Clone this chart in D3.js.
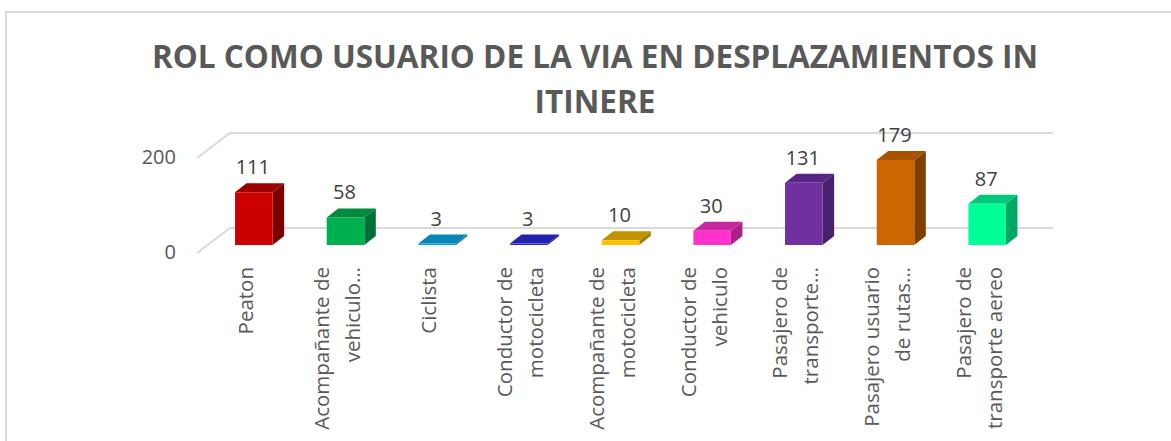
<!DOCTYPE html>
<html>
<head>
<meta charset="utf-8">
<script src="https://cdn.jsdelivr.net/npm/d3@7"></script>
<style>
  body { margin: 0; background: #fff; }
  text { font-family: "Open Sans", sans-serif; }
</style>
</head>
<body>
<div id="chart"></div>
<script>
// categories (already wrapped the way the picture shows them)
var categories = ["Peaton", "Acompañante de vehiculo", "Ciclista", "Conductor de motocicleta",
  "Acompañante de motocicleta", "Conductor de vehiculo", "Pasajero de transporte",
  "Pasajero usuario de rutas", "Pasajero de transporte aereo"];
var tickLines = [["Peaton"], ["Acompañante de", "vehiculo…"], ["Ciclista"], ["Conductor de", "motocicleta"],
  ["Acompañante de", "motocicleta"], ["Conductor de", "vehiculo"], ["Pasajero de", "transporte…"],
  ["Pasajero usuario", "de rutas…"], ["Pasajero de", "transporte aereo"]];
var values = [111, 58, 3, 3, 10, 30, 131, 179, 87];
var yTicks = [0, 200];
var titleLines = ["ROL COMO USUARIO DE LA VIA EN DESPLAZAMIENTOS IN", "ITINERE"];

// colours per bar: front, side, top
var frontColors = ["#cc0000", "#00b050", "#00a0d8", "#2b2bd6", "#ffc000", "#ff33cc", "#7030a0", "#cc6600", "#00ff99"];
var sideColors  = ["#7a0000", "#007034", "#006e96", "#1c1c92", "#a87e00", "#aa2288", "#4a1f6b", "#803f00", "#00a864"];
var topColors   = ["#990000", "#008a3e", "#0a86b6", "#2323b0", "#c49200", "#c8289f", "#582684", "#a65300", "#00c878"];

var W = 1171, H = 441;
var svg = d3.select("#chart").append("svg").attr("width", W).attr("height", H);

// outer chart frame (runs off right and bottom)
svg.append("rect").attr("x", 6).attr("y", 12).attr("width", 1300).attr("height", 600)
  .attr("fill", "none").attr("stroke", "#d9d9d9").attr("stroke-width", 2);

// title
svg.selectAll(".title").data(titleLines).enter().append("text")
  .attr("x", 595).attr("y", function(d, i) { return 68 + i * 45; })
  .attr("text-anchor", "middle")
  .style("font-size", "31.5px").style("font-weight", "bold").attr("fill", "#595959")
  .text(function(d) { return d; });

// 3D geometry: front edge of floor, bar front plane, back wall
var depthX = 33, depthY = -25;      // floor front edge -> back wall
var barDX = 11.5, barDY = -9;       // bar depth
var x = d3.scaleBand().domain(categories).range([208, 1033]);
var yFront = d3.scaleLinear().domain([0, 200]).range([245, 150]);
var yEdge = d3.scaleLinear().domain([0, 200]).range([253, 158]);
var yBack = d3.scaleLinear().domain([0, 200]).range([228, 133]);
var edgeX = 197, backX = edgeX + depthX, backEnd = 1053;

// gridlines: diagonal on side wall + horizontal on back wall
var grid = svg.append("g");
yTicks.forEach(function(t) {
  grid.append("path")
    .attr("d", "M" + edgeX + "," + yEdge(t) + "L" + backX + "," + yBack(t) + "L" + backEnd + "," + yBack(t))
    .attr("fill", "none").attr("stroke", "#d9d9d9").attr("stroke-width", 2);
});

// y tick labels
svg.selectAll(".ytick").data(yTicks).enter().append("text")
  .attr("x", 176).attr("y", function(d) { return yEdge(d) + 1; })
  .attr("text-anchor", "end").attr("dominant-baseline", "middle")
  .style("font-size", "20px").attr("fill", "#595959")
  .text(function(d) { return d; });

// bars
var bw = x.bandwidth() * 0.41;
var bars = svg.selectAll(".bar").data(values).enter().append("g");
function cx(i) { return x(categories[i]) + x.bandwidth() / 2; }

bars.append("path") // side
  .attr("d", function(d, i) {
    var r = cx(i) + bw / 2, y0 = yFront(0), y1 = yFront(d);
    return "M" + r + "," + y0 + "L" + r + "," + y1 + "L" + (r + barDX) + "," + (y1 + barDY) +
      "L" + (r + barDX) + "," + (y0 + barDY) + "Z";
  })
  .attr("fill", function(d, i) { return sideColors[i]; });

bars.append("path") // top
  .attr("d", function(d, i) {
    var l = cx(i) - bw / 2, r = cx(i) + bw / 2, y1 = yFront(d);
    return "M" + l + "," + y1 + "L" + r + "," + y1 + "L" + (r + barDX) + "," + (y1 + barDY) +
      "L" + (l + barDX) + "," + (y1 + barDY) + "Z";
  })
  .attr("fill", function(d, i) { return topColors[i]; });

bars.append("rect") // front
  .attr("x", function(d, i) { return cx(i) - bw / 2; })
  .attr("y", function(d) { return yFront(d); })
  .attr("width", bw)
  .attr("height", function(d) { return yFront(0) - yFront(d); })
  .attr("fill", function(d, i) { return frontColors[i]; });

// value labels
svg.selectAll(".val").data(values).enter().append("text")
  .attr("x", function(d, i) { return cx(i) - 1; })
  .attr("y", function(d) { return yFront(d) + barDY - 9; })
  .attr("text-anchor", "middle")
  .style("font-size", "20px").attr("fill", "#404040")
  .text(function(d) { return d; });

// category labels, rotated
var lab = svg.selectAll(".cat").data(tickLines).enter().append("g");
lab.each(function(lines, i) {
  var g = d3.select(this);
  var c = cx(i) - 8, pitch = 31;
  lines.forEach(function(s, k) {
    var bx = c + (k - (lines.length - 1) / 2) * pitch + 7;
    g.append("text")
      .attr("transform", "translate(" + bx + ",267) rotate(-90)")
      .attr("text-anchor", "end")
      .style("font-size", "20.5px").attr("fill", "#595959")
      .text(s);
  });
});
</script>
</body>
</html>
